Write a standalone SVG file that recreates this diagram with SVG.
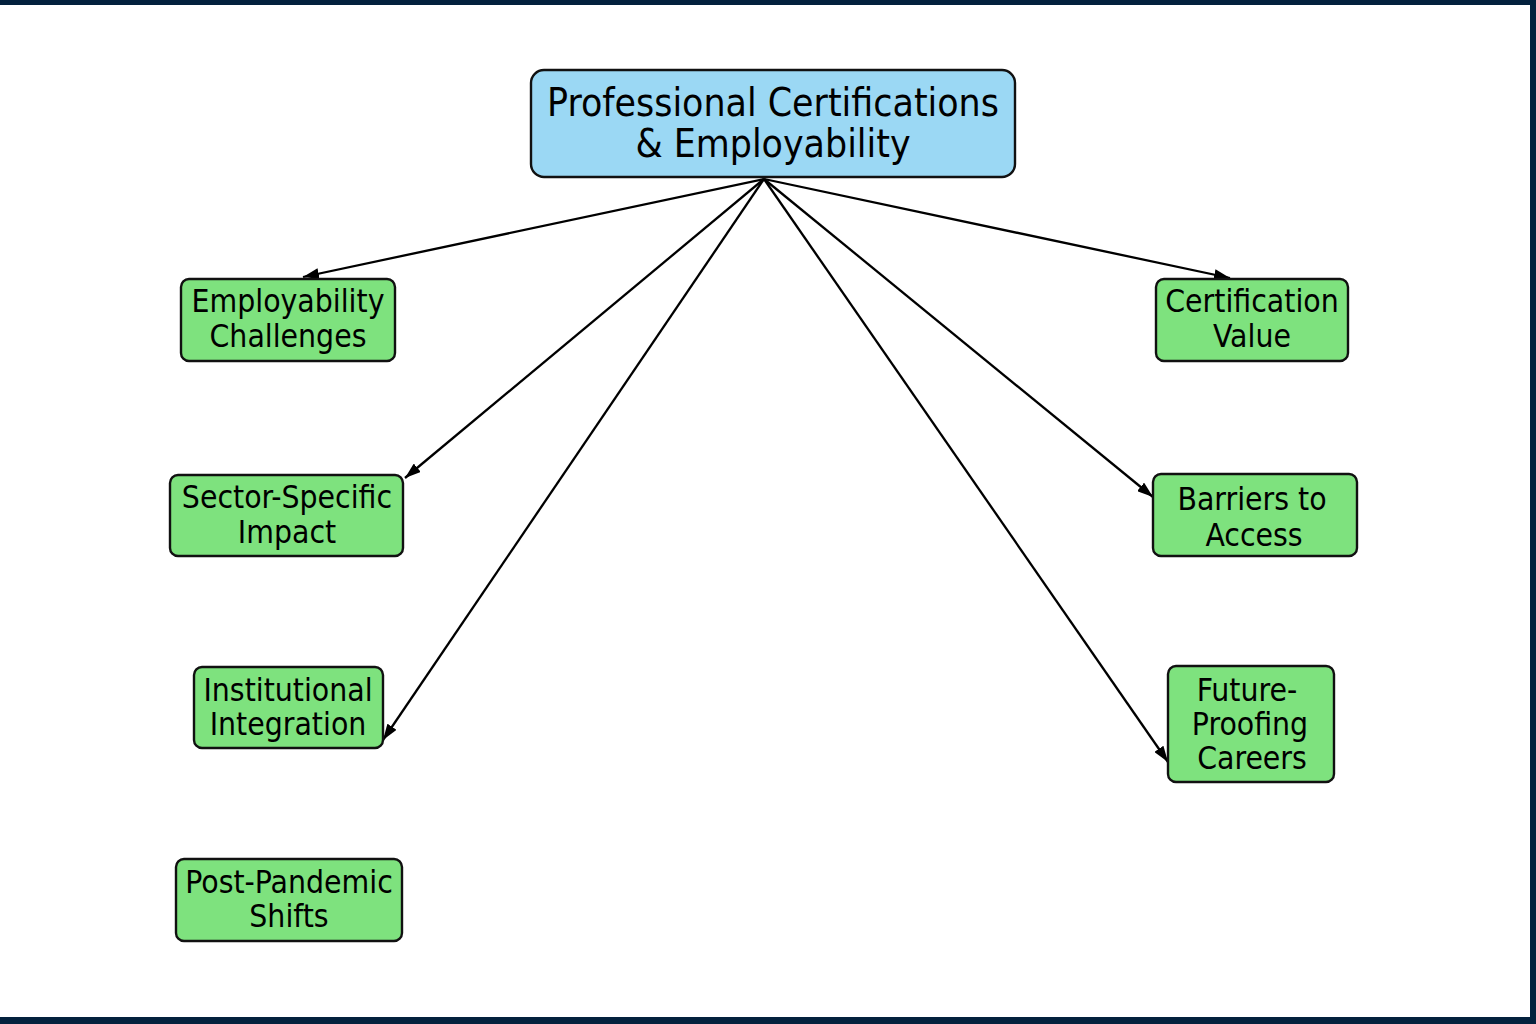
<svg xmlns="http://www.w3.org/2000/svg" width="1536" height="1024" viewBox="0 0 1536 1024">
<style>
.bg{fill:#ffffff}
.frame{fill:#03213d}
.root rect{fill:#9bd8f4;stroke:#111;stroke-width:2.4}
.leaf rect{fill:#7ee27e;stroke:#111;stroke-width:2.4}
text{font-family:"DejaVu Sans Condensed","DejaVu Sans",sans-serif;font-stretch:condensed;fill:#000;text-anchor:middle}
.root text{font-size:38.8px}
.leaf text{font-size:31.6px}
.edges line{stroke:#000;stroke-width:2.3;marker-end:url(#ah)}
</style>
<defs>
<marker id="ah" viewBox="0 0 16 11" refX="16" refY="5.5" markerWidth="16" markerHeight="11" markerUnits="userSpaceOnUse" orient="auto">
<path d="M0,0 L16,5.5 L0,11 Z" fill="#000"/>
</marker>
</defs>
<rect class="bg" x="0" y="0" width="1536" height="1024"/>
<rect class="frame" x="0" y="0" width="1536" height="5"/>
<rect class="frame" x="1530" y="0" width="6" height="1024"/>
<rect class="frame" x="0" y="1017" width="1536" height="7"/>
<g class="edges" id="connectors">
<line x1="764" y1="179" x2="303" y2="277"/>
<line x1="764" y1="179" x2="405" y2="478"/>
<line x1="764" y1="179" x2="383" y2="740"/>
<line x1="764" y1="179" x2="1230" y2="278"/>
<line x1="764" y1="179" x2="1153" y2="497"/>
<line x1="764" y1="179" x2="1168" y2="762"/>
</g>
<g class="root" id="node-root">
<rect x="531" y="70" width="484" height="107" rx="13"/>
<text x="773" y="116">Professional Certifications</text>
<text x="773" y="157">&amp; Employability</text>
</g>
<g class="leaf" id="node-employability-challenges">
<rect x="181" y="279" width="214" height="82" rx="8"/>
<text x="288" y="312">Employability</text>
<text x="288" y="347">Challenges</text>
</g>
<g class="leaf" id="node-certification-value">
<rect x="1156" y="279" width="192" height="82" rx="8"/>
<text x="1252" y="312">Certification</text>
<text x="1252" y="347">Value</text>
</g>
<g class="leaf" id="node-sector-specific-impact">
<rect x="170" y="475" width="233" height="81" rx="8"/>
<text x="287" y="508">Sector-Specific</text>
<text x="287" y="543">Impact</text>
</g>
<g class="leaf" id="node-barriers-to-access">
<rect x="1153" y="474" width="204" height="82" rx="8"/>
<text x="1252" y="510">Barriers to</text>
<text x="1254" y="546">Access</text>
</g>
<g class="leaf" id="node-institutional-integration">
<rect x="194" y="667" width="189" height="81" rx="8"/>
<text x="288" y="701">Institutional</text>
<text x="288" y="735">Integration</text>
</g>
<g class="leaf" id="node-future-proofing-careers">
<rect x="1168" y="666" width="166" height="116" rx="8"/>
<text x="1247" y="701">Future-</text>
<text x="1250" y="735">Proofing</text>
<text x="1252" y="769">Careers</text>
</g>
<g class="leaf" id="node-post-pandemic-shifts">
<rect x="176" y="859" width="226" height="82" rx="8"/>
<text x="289" y="893">Post-Pandemic</text>
<text x="289" y="927">Shifts</text>
</g>
</svg>
